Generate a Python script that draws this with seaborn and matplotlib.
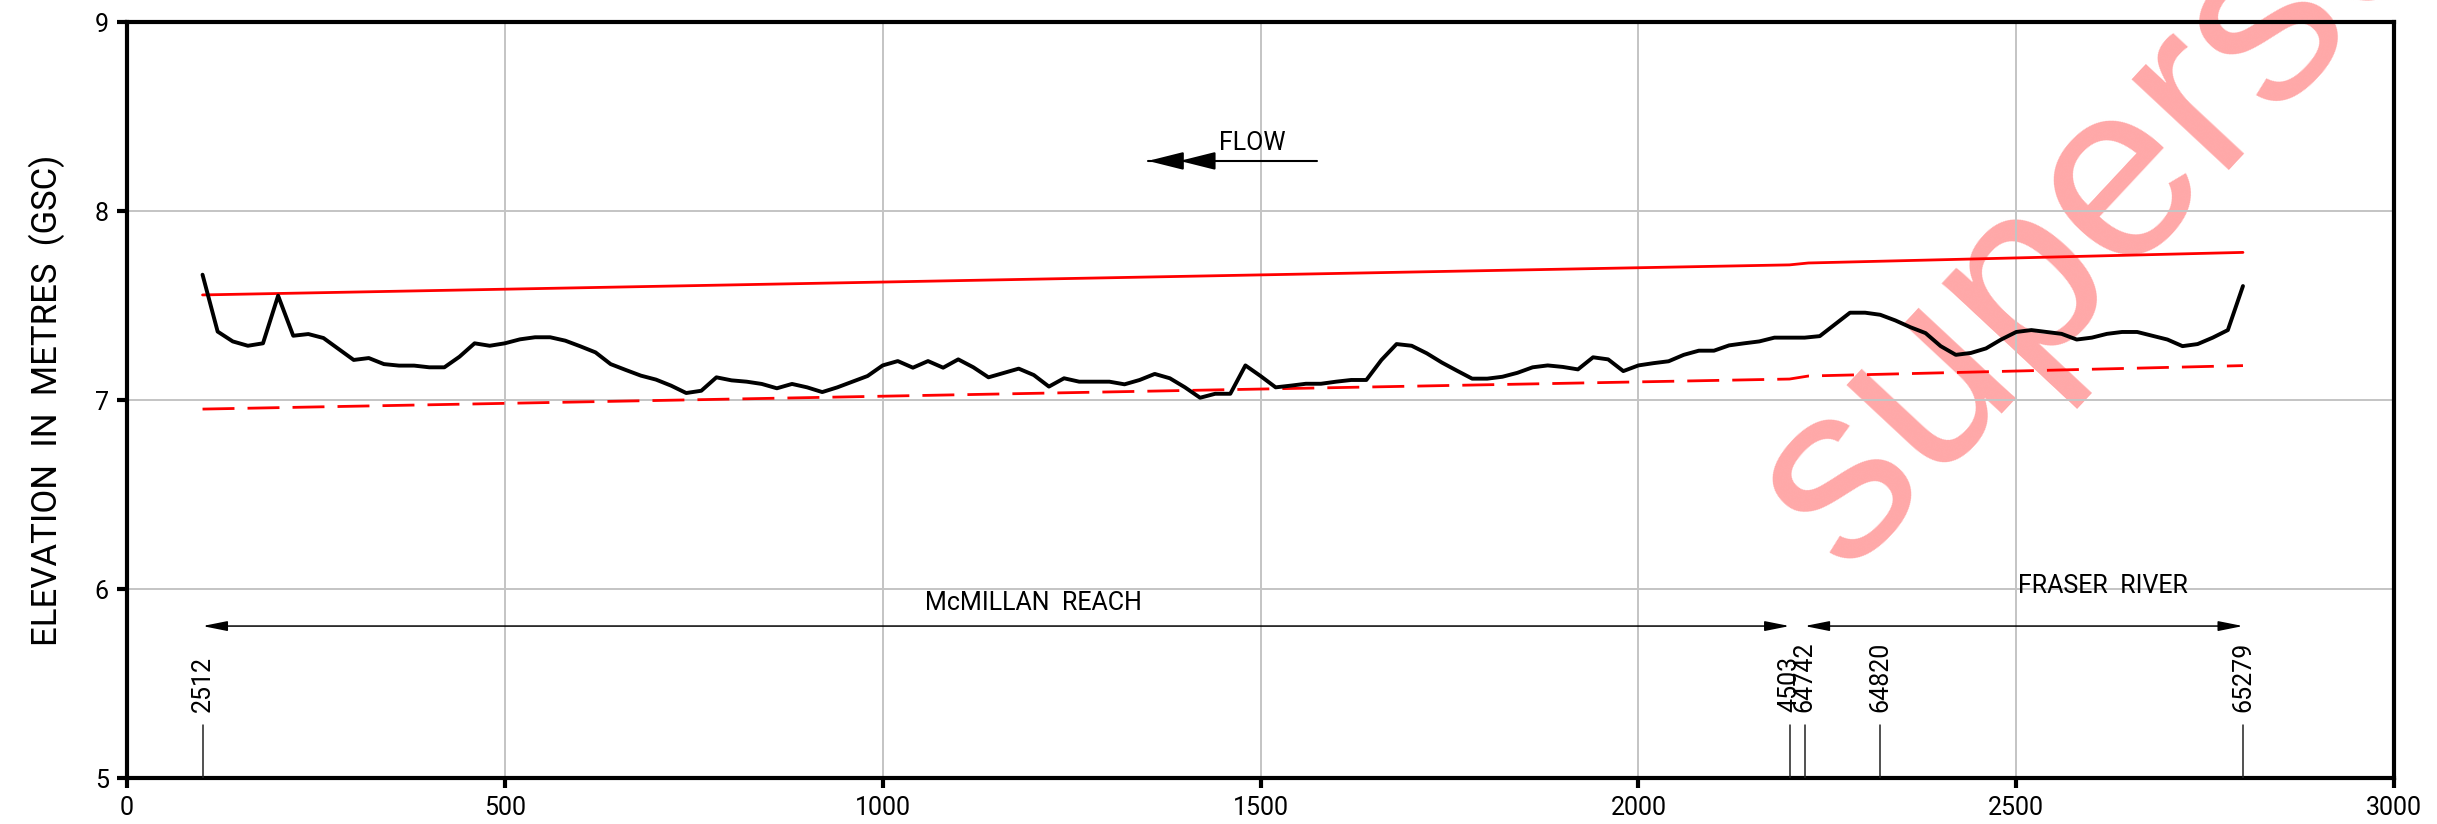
import seaborn as sns
import matplotlib.pyplot as plt
import pandas as pd
import numpy as np

# Water surface profile along the reach (chainage vs elevation)
chainage = [
    100, 120, 140, 160, 180, 200, 220, 240, 260, 280, 300, 320, 340, 360, 380,
    400, 420, 440, 460, 480, 500, 520, 540, 560, 580, 600, 620, 640, 660, 680,
    700, 720, 740, 760, 780, 800, 820, 840, 860, 880, 900, 920, 940, 960, 980,
    1000, 1020, 1040, 1060, 1080, 1100, 1120, 1140, 1160, 1180, 1200, 1220, 1240, 1260, 1280,
    1300, 1320, 1340, 1360, 1380, 1400, 1420, 1440, 1460, 1480, 1500, 1520, 1540, 1560, 1580,
    1600, 1620, 1640, 1660, 1680, 1700, 1720, 1740, 1760, 1780, 1800, 1820, 1840, 1860, 1880,
    1900, 1920, 1940, 1960, 1980, 2000, 2020, 2040, 2060, 2080, 2100, 2120, 2140, 2160, 2180,
    2200, 2220, 2240, 2260, 2280, 2300, 2320, 2340, 2360, 2380, 2400, 2420, 2440, 2460, 2480,
    2500, 2520, 2540, 2560, 2580, 2600, 2620, 2640, 2660, 2680, 2700, 2720, 2740, 2760, 2780,
    2800,
]
water_level = [
    7.663, 7.362, 7.310, 7.287, 7.300, 7.552, 7.340, 7.349, 7.328, 7.270, 7.212, 7.222, 7.190, 7.182, 7.182,
    7.173, 7.173, 7.229, 7.300, 7.287, 7.300, 7.321, 7.332, 7.332, 7.314, 7.284, 7.252, 7.190, 7.159, 7.129,
    7.108, 7.076, 7.037, 7.049, 7.120, 7.104, 7.097, 7.085, 7.062, 7.085, 7.067, 7.042, 7.067, 7.097, 7.127,
    7.183, 7.206, 7.171, 7.206, 7.171, 7.215, 7.173, 7.120, 7.143, 7.166, 7.132, 7.071, 7.115, 7.097, 7.097,
    7.097, 7.083, 7.106, 7.138, 7.115, 7.067, 7.012, 7.033, 7.033, 7.183, 7.127, 7.067, 7.076, 7.086, 7.086,
    7.097, 7.106, 7.106, 7.212, 7.296, 7.287, 7.247, 7.198, 7.155, 7.113, 7.113, 7.123, 7.144, 7.173, 7.183,
    7.175, 7.162, 7.226, 7.215, 7.153, 7.183, 7.195, 7.205, 7.239, 7.261, 7.261, 7.289, 7.300, 7.310, 7.330,
    7.330, 7.330, 7.338, 7.400, 7.462, 7.462, 7.451, 7.421, 7.385, 7.354, 7.285, 7.239, 7.249, 7.273, 7.320,
    7.360, 7.370, 7.360, 7.350, 7.320, 7.330, 7.350, 7.360, 7.360, 7.340, 7.320, 7.285, 7.296, 7.330, 7.370,
    7.603,
]

# Red reference lines
ref_chainage = [100, 2200, 2225, 2800]
upper_level = [7.556, 7.715, 7.725, 7.781]
lower_level = [6.952, 7.111, 7.127, 7.182]

# Cross-section markers
section_x = [100, 2200, 2220, 2320, 2800]
section_labels = ["2512", "4503", "64742", "64820", "65279"]

# Reaches
reach_names = ["McMILLAN  REACH", "FRASER  RIVER"]
reach_start = [100, 2220]
reach_end = [2200, 2800]
reach_label_x = [1200, 2615]
reach_label_y = [5.86, 5.955]

profile = pd.DataFrame({"chainage": chainage, "elevation": water_level})
refs = pd.DataFrame({"chainage": ref_chainage, "upper": upper_level, "lower": lower_level})

sns.set_style("whitegrid")
plt.rcParams["font.family"] = ["Roboto", "DejaVu Sans"]
plt.rcParams["font.weight"] = "normal"
plt.rcParams["text.color"] = "black"
plt.rcParams["axes.labelcolor"] = "black"
plt.rcParams["xtick.color"] = "black"
plt.rcParams["ytick.color"] = "black"

fig = plt.figure(figsize=(24.37, 8.24), dpi=100)
ax = fig.add_axes([0.0521, 0.0558, 0.9303, 0.9175])
ax.set_facecolor("none")

sns.lineplot(data=refs, x="chainage", y="upper", color="red", linewidth=2.0, ax=ax, zorder=3)
sns.lineplot(data=refs, x="chainage", y="lower", color="red", linewidth=2.0, ax=ax, zorder=3)
ax.lines[-1].set_dashes([11.5, 4.7])
sns.lineplot(data=profile, x="chainage", y="elevation", color="black", linewidth=2.8,
             ax=ax, zorder=4)

ax.set_xlim(0, 3000)
ax.set_ylim(5, 9)
ax.set_xticks(range(0, 3001, 500))
ax.set_yticks(range(5, 10))
ax.grid(True, color="#c4c4c4", linewidth=1.4)
ax.set_axisbelow(True)

for s in ax.spines.values():
    s.set_color("black")
    s.set_linewidth(3)
ax.tick_params(axis="both", direction="out", length=7, width=3, color="black",
               labelcolor="black", labelsize=18, pad=6, left=True, bottom=True)
ax.set_xlabel("")
ax.set_ylabel("ELEVATION  IN  METRES  (GSC)", fontsize=25, color="black")
ax.yaxis.set_label_coords(-0.0273, 0.5)

# section markers
for sx, lab in zip(section_x, section_labels):
    ax.plot([sx, sx], [5, 5.28], color="#222222", linewidth=1.1, zorder=3)
    ax.text(sx, 5.35, lab, rotation=90, ha="center", va="bottom", fontsize=18)

# reach dimension arrows
for a, b, name, lx, ly in zip(reach_start, reach_end, reach_names, reach_label_x, reach_label_y):
    ax.annotate("", xy=(a, 5.804), xytext=(b, 5.804),
                arrowprops=dict(arrowstyle="<|-|>,head_length=15,head_width=3",
                                color="black", lw=1.1, shrinkA=0, shrinkB=0,
                                mutation_scale=1))
    ax.text(lx, ly, name, ha="center", va="bottom", fontsize=18)

# flow arrow
flow_y = 8.265
ax.plot([1351, 1575], [flow_y, flow_y], color="black", linewidth=1.5)
for tip, base in [(1351, 1397), (1393, 1429)]:
    ax.annotate("", xy=(tip, flow_y), xytext=(base, flow_y),
                arrowprops=dict(arrowstyle="-|>,head_length=22,head_width=5.5",
                                color="black", lw=1.5, shrinkA=0, shrinkB=0,
                                mutation_scale=1))
ax.text(1489, flow_y + 0.03, "FLOW", ha="center", va="bottom", fontsize=18)

# watermark
ax.text(2275, 6.08, "superseded", rotation=47, rotation_mode="anchor",
        ha="left", va="baseline", fontsize=180, color="#ffa8a8",
        family=["Liberation Sans", "DejaVu Sans"], fontweight="normal",
        zorder=0.2, clip_on=False)

fig.savefig("out.png", dpi=100)
plt.close(fig)
